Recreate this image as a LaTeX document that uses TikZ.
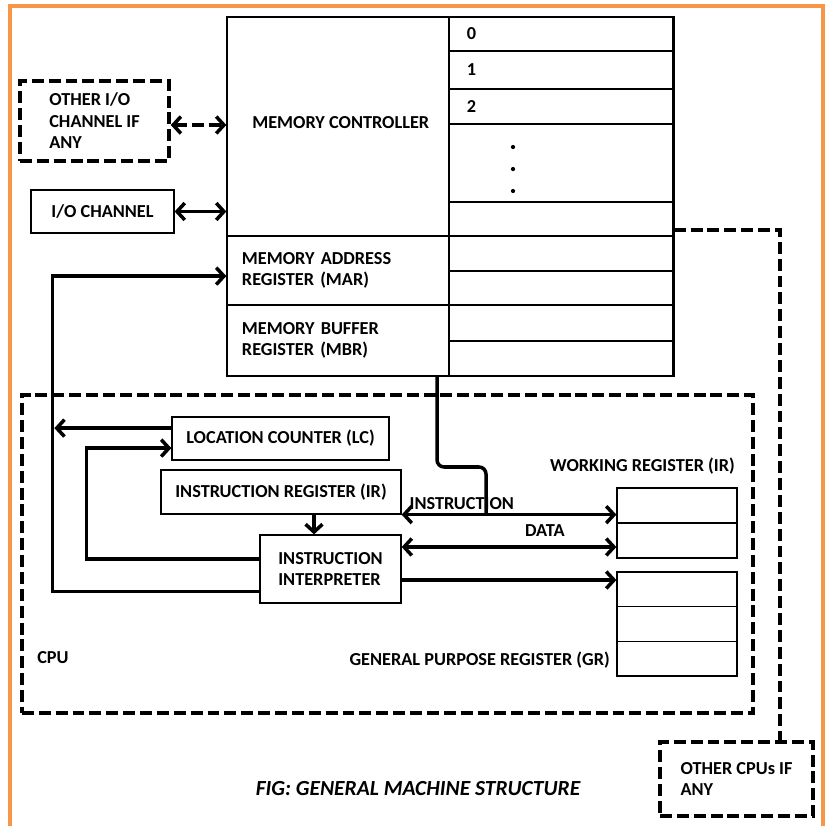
\documentclass[tikz,border=0pt]{standalone}
\usepackage{fontspec}
\setmainfont{Carlito}
\usetikzlibrary{arrows.meta}
\definecolor{frameorange}{RGB}{247,150,70}

\begin{document}
\begin{tikzpicture}[x=0.025cm, y=-0.025cm, font=\fontsize{13}{15.3}\selectfont\bfseries,
    >={Straight Barb[length=5.5pt,width=12pt]},
    box/.style={draw, line width=0.9pt, inner sep=0pt, align=center},
    dbox/.style={draw, line width=2.5pt, dash pattern=on 8.5pt off 3.5pt, inner sep=0pt, align=left},
    reg/.style={draw, line width=0.9pt, inner sep=0pt, minimum width=3cm},
    wire/.style={line width=2.5pt},
    dwire/.style={line width=2.5pt, dash pattern=on 8.5pt off 3.5pt}]
  \useasboundingbox (0,0) rectangle (827,825);
  \draw[frameorange, line width=2.2pt] (10,6) rectangle (823,840);
  \node[box, minimum width=5.55cm, minimum height=5.475cm] (ctrl) at (338,126.5) {};
  \node[anchor=west, inner sep=0pt] (ctrltxt) at (252,123) {MEMORY CONTROLLER};
  \node[box, minimum width=5.55cm, minimum height=1.725cm, text width=4.8cm, align=left] (mar) at (338,270.5) {MEMORY ADDRESS\\REGISTER (MAR)};
  \node[box, minimum width=5.55cm, minimum height=1.775cm, text width=4.8cm, align=left] (mbr) at (338,340.5) {MEMORY BUFFER\\REGISTER (MBR)};
  \foreach \t/\b/\lbl [count=\i] in {17/51/0, 51/89/1, 89/124/2, 124/202/{}, 202/236/{}, 236/271/{}, 271/305/{}, 305/341/{}, 341/376/{}} {
    \pgfmathsetmacro\h{(\b-\t)*0.025}
    \node[box, minimum height=\h cm, text width=4.7cm, align=left, inner xsep=0.45cm] (cell\i) at (561,{(\t+\b)/2}) {\lbl};
  }
  \draw[line width=1.4pt] (cell1.north east) -- (cell9.south east);
  \foreach \y in {147,169,191} \fill (513,\y) circle (1.5pt);
  \node[dbox, minimum width=3.725cm, minimum height=2cm] (otherio) at (94.5,121) {OTHER I/O\\CHANNEL IF\\ANY};
  \node[box, minimum width=3.575cm, minimum height=1.075cm] (ioch) at (102.5,211.5) {I/O CHANNEL};
  \draw[dwire, <->] ([yshift=-0.1cm]otherio.east) -- ([yshift=-0.1cm]otherio.east -| ctrl.west);
  \draw[wire, <->] (ioch.east) -- (ioch.east -| ctrl.west);
  \node[dbox, minimum width=18.275cm, minimum height=7.95cm] (cpu) at (387.5,554) {};
  \node[anchor=west, inner sep=0pt] (cputxt) at (37,658) {CPU};
  \node[box, minimum width=5.425cm, minimum height=1.075cm] (lc) at (280.5,438.5) {LOCATION COUNTER (LC)};
  \node[box, minimum width=6cm, minimum height=1.1cm] (ir) at (281,492) {INSTRUCTION REGISTER (IR)};
  \node[box, minimum width=3.525cm, minimum height=1.7cm, align=left] (interp) at (330.5,569) {INSTRUCTION\\INTERPRETER};
  \node[reg, minimum height=0.875cm] (wr1) at (677,505.5) {};
  \node[reg, minimum height=0.875cm] (wr2) at (677,540.5) {};
  \foreach \y [count=\i] in {589.3,624,658.7} \node[reg, minimum height=0.8667cm] (gr\i) at (677,\y) {};
  \node[anchor=east, inner sep=0pt] (wrtxt) at (735,466) {WORKING REGISTER (IR)};
  \node[anchor=east, inner sep=0pt] (grtxt) at (610,660) {GENERAL PURPOSE REGISTER (GR)};
  \node[dbox, minimum width=3.825cm, minimum height=1.85cm] (othercpu) at (736.5,779) {OTHER CPUs IF\\ANY};
  \draw[wire, ->] ([yshift=0.3cm]interp.south west) -- ++(-207,0) |- ([yshift=-0.14cm]mar.west);
  \draw[wire, ->] ([yshift=0.26cm]lc.west) -- ++(-117,0);
  \draw[wire, ->] ([yshift=0.25cm]interp.west) -- ++(-173,0) |- ([yshift=-0.24cm]lc.west);
  \draw[wire, ->] ([xshift=0.825cm]ir.south) -- ([xshift=0.825cm]ir.south |- interp.north);
  \draw[wire, <->] (ir.south east) -- node[pos=0.28, above=-1pt] {INSTRUCTION} (ir.south east -| wr1.west);
  \draw[wire, <->] ([yshift=0.55cm]interp.east) -- node[pos=0.667, above=3pt] {DATA} ([yshift=0.55cm]interp.east -| wr2.west);
  \draw[wire, ->] ([yshift=-0.275cm]interp.east) -- ([yshift=-0.275cm]interp.east -| gr1.west);
  \coordinate (busjoin) at (486,514);
  \draw[wire, rounded corners=5pt] ([xshift=2.475cm]mbr.south) |- ([yshift=1.175cm]busjoin) -- (busjoin);
  \draw[dwire] ([yshift=-0.275cm]cell5.east) -| ([xshift=1.0875cm]othercpu.north);
  \node[font=\fontsize{15.3}{18}\selectfont\bfseries\itshape] (caption) at (418,789) {FIG: GENERAL MACHINE STRUCTURE};
\end{tikzpicture}
\end{document}
